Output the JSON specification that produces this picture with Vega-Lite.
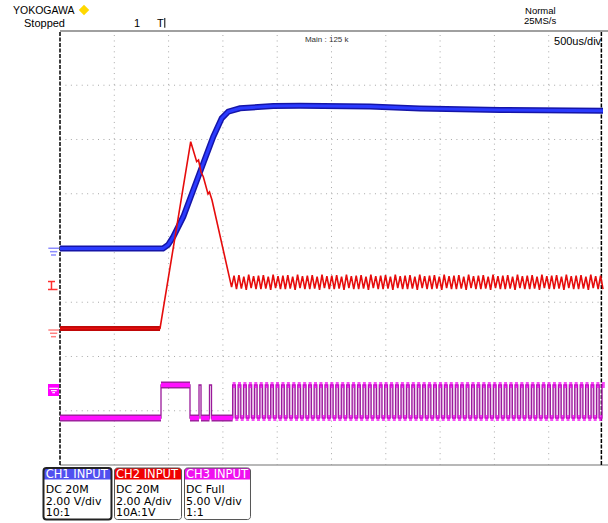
{
"$schema": "https://vega.github.io/schema/vega-lite/v6.json",
"width": 608, "height": 523, "padding": 0, "autosize": {"type": "none"},
"background": "white",
"config": {"view": {"stroke": null}, "axis": {"disable": true}},
"data": {"values": [{}]},
"datasets": {
"ch1": [{"t":0,"v":3.99},{"t":1.897,"v":3.99},{"t":1.989,"v":4.055},{"t":2.087,"v":4.208},{"t":2.271,"v":4.577},{"t":2.455,"v":5.069},{"t":2.639,"v":5.561},{"t":2.823,"v":6.052},{"t":2.978,"v":6.391},{"t":3.099,"v":6.512},{"t":3.315,"v":6.575},{"t":3.928,"v":6.618},{"t":4.42,"v":6.623},{"t":5.709,"v":6.608},{"t":6.63,"v":6.571},{"t":8.103,"v":6.544},{"t":10,"v":6.531}],
"ch2": [{"t":0,"v":2.516},{"t":1.842,"v":2.516},{"t":2.407,"v":5.959},{"t":2.517,"v":5.591},{"t":2.551,"v":5.622},{"t":2.597,"v":5.401},{"t":2.639,"v":5.314},{"t":2.726,"v":4.995},{"t":2.753,"v":5.032},{"t":2.799,"v":4.885},{"t":3.16,"v":3.28},
{"t":3.205,"v":3.49},{"t":3.25,"v":3.24},{"t":3.295,"v":3.5},{"t":3.34,"v":3.25},{"t":3.385,"v":3.47},{"t":3.43,"v":3.23},{"t":3.475,"v":3.51},{"t":3.52,"v":3.26},{"t":3.565,"v":3.48},{"t":3.61,"v":3.24},
{"t":3.655,"v":3.49},{"t":3.7,"v":3.24},{"t":3.745,"v":3.5},{"t":3.79,"v":3.25},{"t":3.835,"v":3.47},{"t":3.88,"v":3.23},{"t":3.925,"v":3.51},{"t":3.97,"v":3.26},{"t":4.015,"v":3.48},{"t":4.06,"v":3.24},
{"t":4.105,"v":3.49},{"t":4.15,"v":3.24},{"t":4.195,"v":3.5},{"t":4.24,"v":3.25},{"t":4.285,"v":3.47},{"t":4.33,"v":3.23},{"t":4.375,"v":3.51},{"t":4.42,"v":3.26},{"t":4.465,"v":3.48},{"t":4.51,"v":3.24},
{"t":4.555,"v":3.49},{"t":4.6,"v":3.24},{"t":4.645,"v":3.5},{"t":4.69,"v":3.25},{"t":4.735,"v":3.47},{"t":4.78,"v":3.23},{"t":4.825,"v":3.51},{"t":4.87,"v":3.26},{"t":4.915,"v":3.48},{"t":4.96,"v":3.24},
{"t":5.005,"v":3.49},{"t":5.05,"v":3.24},{"t":5.095,"v":3.5},{"t":5.14,"v":3.25},{"t":5.185,"v":3.47},{"t":5.23,"v":3.23},{"t":5.275,"v":3.51},{"t":5.32,"v":3.26},{"t":5.365,"v":3.48},{"t":5.41,"v":3.24},
{"t":5.455,"v":3.49},{"t":5.5,"v":3.24},{"t":5.545,"v":3.5},{"t":5.59,"v":3.25},{"t":5.635,"v":3.47},{"t":5.68,"v":3.23},{"t":5.725,"v":3.51},{"t":5.77,"v":3.26},{"t":5.815,"v":3.48},{"t":5.86,"v":3.24},
{"t":5.905,"v":3.49},{"t":5.95,"v":3.24},{"t":5.995,"v":3.5},{"t":6.04,"v":3.25},{"t":6.085,"v":3.47},{"t":6.13,"v":3.23},{"t":6.175,"v":3.51},{"t":6.22,"v":3.26},{"t":6.265,"v":3.48},{"t":6.31,"v":3.24},
{"t":6.355,"v":3.49},{"t":6.4,"v":3.24},{"t":6.445,"v":3.5},{"t":6.49,"v":3.25},{"t":6.535,"v":3.47},{"t":6.58,"v":3.23},{"t":6.625,"v":3.51},{"t":6.67,"v":3.26},{"t":6.715,"v":3.48},{"t":6.76,"v":3.24},
{"t":6.805,"v":3.49},{"t":6.85,"v":3.24},{"t":6.895,"v":3.5},{"t":6.94,"v":3.25},{"t":6.985,"v":3.47},{"t":7.03,"v":3.23},{"t":7.075,"v":3.51},{"t":7.12,"v":3.26},{"t":7.165,"v":3.48},{"t":7.21,"v":3.24},
{"t":7.255,"v":3.49},{"t":7.3,"v":3.24},{"t":7.345,"v":3.5},{"t":7.39,"v":3.25},{"t":7.435,"v":3.47},{"t":7.48,"v":3.23},{"t":7.525,"v":3.51},{"t":7.57,"v":3.26},{"t":7.615,"v":3.48},{"t":7.66,"v":3.24},
{"t":7.705,"v":3.49},{"t":7.75,"v":3.24},{"t":7.795,"v":3.5},{"t":7.84,"v":3.25},{"t":7.885,"v":3.47},{"t":7.93,"v":3.23},{"t":7.975,"v":3.51},{"t":8.02,"v":3.26},{"t":8.065,"v":3.48},{"t":8.11,"v":3.24},
{"t":8.155,"v":3.49},{"t":8.2,"v":3.24},{"t":8.245,"v":3.5},{"t":8.29,"v":3.25},{"t":8.335,"v":3.47},{"t":8.38,"v":3.23},{"t":8.425,"v":3.51},{"t":8.47,"v":3.26},{"t":8.515,"v":3.48},{"t":8.56,"v":3.24},
{"t":8.605,"v":3.49},{"t":8.65,"v":3.24},{"t":8.695,"v":3.5},{"t":8.74,"v":3.25},{"t":8.785,"v":3.47},{"t":8.83,"v":3.23},{"t":8.875,"v":3.51},{"t":8.92,"v":3.26},{"t":8.965,"v":3.48},{"t":9.01,"v":3.24},
{"t":9.055,"v":3.49},{"t":9.1,"v":3.24},{"t":9.145,"v":3.5},{"t":9.19,"v":3.25},{"t":9.235,"v":3.47},{"t":9.28,"v":3.23},{"t":9.325,"v":3.51},{"t":9.37,"v":3.26},{"t":9.415,"v":3.48},{"t":9.46,"v":3.24},
{"t":9.505,"v":3.49},{"t":9.55,"v":3.24},{"t":9.595,"v":3.5},{"t":9.64,"v":3.25},{"t":9.685,"v":3.47},{"t":9.73,"v":3.23},{"t":9.775,"v":3.51},{"t":9.82,"v":3.26},{"t":9.865,"v":3.48},{"t":9.91,"v":3.24},
{"t":9.955,"v":3.49},{"t":10,"v":3.24}],
"ch3": [{"t":0,"v":0.866},{"t":1.86,"v":1.475},{"t":2.394,"v":0.866},{"t":2.56,"v":1.475},{"t":2.597,"v":0.866},{"t":2.753,"v":1.475},{"t":2.79,"v":0.866},
{"t":3.18,"v":1.475},{"t":3.23,"v":0.866},{"t":3.28,"v":1.475},{"t":3.33,"v":0.866},{"t":3.38,"v":1.475},{"t":3.43,"v":0.866},{"t":3.48,"v":1.475},{"t":3.53,"v":0.866},{"t":3.58,"v":1.475},{"t":3.63,"v":0.866},
{"t":3.68,"v":1.475},{"t":3.73,"v":0.866},{"t":3.78,"v":1.475},{"t":3.83,"v":0.866},{"t":3.88,"v":1.475},{"t":3.93,"v":0.866},{"t":3.98,"v":1.475},{"t":4.03,"v":0.866},{"t":4.08,"v":1.475},{"t":4.13,"v":0.866},
{"t":4.18,"v":1.475},{"t":4.23,"v":0.866},{"t":4.28,"v":1.475},{"t":4.33,"v":0.866},{"t":4.38,"v":1.475},{"t":4.43,"v":0.866},{"t":4.48,"v":1.475},{"t":4.53,"v":0.866},{"t":4.58,"v":1.475},{"t":4.63,"v":0.866},
{"t":4.68,"v":1.475},{"t":4.73,"v":0.866},{"t":4.78,"v":1.475},{"t":4.83,"v":0.866},{"t":4.88,"v":1.475},{"t":4.93,"v":0.866},{"t":4.98,"v":1.475},{"t":5.03,"v":0.866},{"t":5.08,"v":1.475},{"t":5.13,"v":0.866},
{"t":5.18,"v":1.475},{"t":5.23,"v":0.866},{"t":5.28,"v":1.475},{"t":5.33,"v":0.866},{"t":5.38,"v":1.475},{"t":5.43,"v":0.866},{"t":5.48,"v":1.475},{"t":5.53,"v":0.866},{"t":5.58,"v":1.475},{"t":5.63,"v":0.866},
{"t":5.68,"v":1.475},{"t":5.73,"v":0.866},{"t":5.78,"v":1.475},{"t":5.83,"v":0.866},{"t":5.88,"v":1.475},{"t":5.93,"v":0.866},{"t":5.98,"v":1.475},{"t":6.03,"v":0.866},{"t":6.08,"v":1.475},{"t":6.13,"v":0.866},
{"t":6.18,"v":1.475},{"t":6.23,"v":0.866},{"t":6.28,"v":1.475},{"t":6.33,"v":0.866},{"t":6.38,"v":1.475},{"t":6.43,"v":0.866},{"t":6.48,"v":1.475},{"t":6.53,"v":0.866},{"t":6.58,"v":1.475},{"t":6.63,"v":0.866},
{"t":6.68,"v":1.475},{"t":6.73,"v":0.866},{"t":6.78,"v":1.475},{"t":6.83,"v":0.866},{"t":6.88,"v":1.475},{"t":6.93,"v":0.866},{"t":6.98,"v":1.475},{"t":7.03,"v":0.866},{"t":7.08,"v":1.475},{"t":7.13,"v":0.866},
{"t":7.18,"v":1.475},{"t":7.23,"v":0.866},{"t":7.28,"v":1.475},{"t":7.33,"v":0.866},{"t":7.38,"v":1.475},{"t":7.43,"v":0.866},{"t":7.48,"v":1.475},{"t":7.53,"v":0.866},{"t":7.58,"v":1.475},{"t":7.63,"v":0.866},
{"t":7.68,"v":1.475},{"t":7.73,"v":0.866},{"t":7.78,"v":1.475},{"t":7.83,"v":0.866},{"t":7.88,"v":1.475},{"t":7.93,"v":0.866},{"t":7.98,"v":1.475},{"t":8.03,"v":0.866},{"t":8.08,"v":1.475},{"t":8.13,"v":0.866},
{"t":8.18,"v":1.475},{"t":8.23,"v":0.866},{"t":8.28,"v":1.475},{"t":8.33,"v":0.866},{"t":8.38,"v":1.475},{"t":8.43,"v":0.866},{"t":8.48,"v":1.475},{"t":8.53,"v":0.866},{"t":8.58,"v":1.475},{"t":8.63,"v":0.866},
{"t":8.68,"v":1.475},{"t":8.73,"v":0.866},{"t":8.78,"v":1.475},{"t":8.83,"v":0.866},{"t":8.88,"v":1.475},{"t":8.93,"v":0.866},{"t":8.98,"v":1.475},{"t":9.03,"v":0.866},{"t":9.08,"v":1.475},{"t":9.13,"v":0.866},
{"t":9.18,"v":1.475},{"t":9.23,"v":0.866},{"t":9.28,"v":1.475},{"t":9.33,"v":0.866},{"t":9.38,"v":1.475},{"t":9.43,"v":0.866},{"t":9.48,"v":1.475},{"t":9.53,"v":0.866},{"t":9.58,"v":1.475},{"t":9.63,"v":0.866},
{"t":9.68,"v":1.475},{"t":9.73,"v":0.866},{"t":9.78,"v":1.475},{"t":9.83,"v":0.866},{"t":9.88,"v":1.475},{"t":9.93,"v":0.866},{"t":9.98,"v":1.475},{"t":10,"v":1.475}],
"ch2flat": [{"t":0,"t2":1.842,"v":2.516}],
"ch3flat": [{"t":0,"t2":1.86,"v":0.866},{"t":1.86,"t2":2.394,"v":1.475},{"t":2.394,"t2":2.56,"v":0.866},{"t":2.597,"t2":2.753,"v":0.866},{"t":2.79,"t2":3.18,"v":0.866}],
"vgrid": [{"t":1},{"t":2},{"t":3},{"t":4},{"t":5},{"t":6},{"t":7},{"t":8},{"t":9}],
"hgrid": [{"v":1},{"v":2},{"v":3},{"v":4},{"v":5},{"v":6},{"v":7}]
},
"layer": [
{"data": {"name": "vgrid"},
 "mark": {"type": "rule", "color": "#a8a8a8", "strokeWidth": 1, "strokeDash": [1, 4.43]},
 "encoding": {"x": {"field": "t", "type": "quantitative", "scale": {"domain": [-1.105, 10.092], "nice": false, "zero": false}, "axis": null}, "y": {"datum": 0, "scale": {"domain": [-1.069, 8.571], "nice": false, "zero": false}}, "y2": {"datum": 8}}},
{"data": {"name": "hgrid"},
 "mark": {"type": "rule", "color": "#a8a8a8", "strokeWidth": 1, "strokeDash": [1, 4.43]},
 "encoding": {"y": {"field": "v", "type": "quantitative", "scale": {"domain": [-1.069, 8.571], "nice": false, "zero": false}, "axis": null}, "x": {"datum": 0, "scale": {"domain": [-1.105, 10.092], "nice": false, "zero": false}}, "x2": {"datum": 10}}},
{"mark": {"type": "rule", "color": "#a0a0a0", "strokeWidth": 2},
 "encoding": {"x": {"datum": 0}, "x2": {"datum": 10.092}, "y": {"datum": 8}}},
{"mark": {"type": "rule", "color": "#a0a0a0", "strokeWidth": 1.5},
 "encoding": {"x": {"datum": 0}, "x2": {"datum": 10.092}, "y": {"datum": 0}}},
{"mark": {"type": "rule", "color": "black", "strokeWidth": 1.5, "strokeDash": [4, 1.5]},
 "encoding": {"x": {"datum": 0}, "y": {"datum": 0}, "y2": {"datum": 8}}},
{"mark": {"type": "rule", "color": "black", "strokeWidth": 1.5, "strokeDash": [4, 1.5]},
 "encoding": {"x": {"datum": 9.97}, "y": {"datum": 0}, "y2": {"datum": 8}}},

{"data": {"name": "ch1"}, "mark": {"type": "line", "color": "#1515a8", "strokeWidth": 6},
 "encoding": {"x": {"field": "t", "type": "quantitative"}, "y": {"field": "v", "type": "quantitative"}}},
{"data": {"name": "ch1"}, "mark": {"type": "line", "color": "#2b3bff", "strokeWidth": 3},
 "encoding": {"x": {"field": "t", "type": "quantitative"}, "y": {"field": "v", "type": "quantitative"}}},

{"data": {"name": "ch2flat"}, "mark": {"type": "rule", "color": "#c00808", "strokeWidth": 5},
 "encoding": {"x": {"field": "t", "type": "quantitative"}, "x2": {"field": "t2"}, "y": {"field": "v", "type": "quantitative"}}},
{"data": {"name": "ch2"}, "mark": {"type": "line", "color": "#e60c0c", "strokeWidth": 1.6},
 "encoding": {"x": {"field": "t", "type": "quantitative"}, "y": {"field": "v", "type": "quantitative"}}},

{"data": {"name": "ch3"}, "transform": [{"filter": "datum.t >= 3.18"}],
 "mark": {"type": "area", "interpolate": "step-after", "color": "#eab5ea", "opacity": 1},
 "encoding": {"x": {"field": "t", "type": "quantitative"}, "y": {"field": "v", "type": "quantitative"}, "y2": {"datum": 0.866}}},
{"data": {"name": "ch3"}, "mark": {"type": "line", "interpolate": "step-after", "color": "#9a1a9a", "strokeWidth": 1.3},
 "encoding": {"x": {"field": "t", "type": "quantitative"}, "y": {"field": "v", "type": "quantitative"}}},
{"data": {"name": "ch3flat"}, "mark": {"type": "rule", "color": "#a020a0", "strokeWidth": 7},
 "encoding": {"x": {"field": "t", "type": "quantitative"}, "x2": {"field": "t2"}, "y": {"field": "v", "type": "quantitative"}}},
{"data": {"name": "ch3flat"}, "mark": {"type": "rule", "color": "#ff10ff", "strokeWidth": 4},
 "encoding": {"x": {"field": "t", "type": "quantitative"}, "x2": {"field": "t2"}, "y": {"field": "v", "type": "quantitative"}}},
{"data": {"name": "ch3"}, "transform": [{"filter": "datum.t >= 3.18 && datum.t < 9.99"}],
 "mark": {"type": "tick", "orient": "horizontal", "color": "#f000f0", "thickness": 6, "size": 3, "xOffset": 1.4},
 "encoding": {"x": {"field": "t", "type": "quantitative"}, "y": {"field": "v", "type": "quantitative"}}},

{"mark": {"type": "rule", "color": "#8c8cff", "strokeWidth": 1.5}, "encoding": {"x": {"datum": -0.215}, "x2": {"datum": -0.013}, "y": {"datum": 3.995}}},
{"mark": {"type": "rule", "color": "#8c8cff", "strokeWidth": 1.5}, "encoding": {"x": {"datum": -0.184}, "x2": {"datum": -0.05}, "y": {"datum": 3.932}}},
{"mark": {"type": "rule", "color": "#8c8cff", "strokeWidth": 1.5}, "encoding": {"x": {"datum": -0.166}, "x2": {"datum": -0.074}, "y": {"datum": 3.871}}},

{"mark": {"type": "rule", "color": "#ff8080", "strokeWidth": 1.5}, "encoding": {"x": {"datum": -0.215}, "x2": {"datum": -0.013}, "y": {"datum": 2.488}}},
{"mark": {"type": "rule", "color": "#ff8080", "strokeWidth": 1.5}, "encoding": {"x": {"datum": -0.184}, "x2": {"datum": -0.05}, "y": {"datum": 2.428}}},
{"mark": {"type": "rule", "color": "#ff8080", "strokeWidth": 1.5}, "encoding": {"x": {"datum": -0.166}, "x2": {"datum": -0.074}, "y": {"datum": 2.365}}},

{"mark": {"type": "rule", "color": "#ff3030", "strokeWidth": 1.5}, "encoding": {"x": {"datum": -0.221}, "x2": {"datum": -0.092}, "y": {"datum": 3.382}}},
{"mark": {"type": "rule", "color": "#ff3030", "strokeWidth": 1.5}, "encoding": {"x": {"datum": -0.157}, "y": {"datum": 3.382}, "y2": {"datum": 3.235}}},
{"mark": {"type": "rule", "color": "#ff3030", "strokeWidth": 1.5}, "encoding": {"x": {"datum": -0.221}, "x2": {"datum": -0.046}, "y": {"datum": 3.235}}},

{"mark": {"type": "rect", "color": "#ff00ff"}, "encoding": {"x": {"datum": -0.221}, "x2": {"datum": -0.018}, "y": {"datum": 1.493}, "y2": {"datum": 1.272}}},
{"mark": {"type": "rule", "color": "white", "strokeWidth": 1.2}, "encoding": {"x": {"datum": -0.197}, "x2": {"datum": -0.031}, "y": {"datum": 1.414}}},
{"mark": {"type": "rule", "color": "white", "strokeWidth": 1.2}, "encoding": {"x": {"datum": -0.166}, "x2": {"datum": -0.061}, "y": {"datum": 1.37}}},
{"mark": {"type": "rule", "color": "white", "strokeWidth": 1.2}, "encoding": {"x": {"datum": -0.142}, "x2": {"datum": -0.092}, "y": {"datum": 1.333}}},

{"mark": {"type": "text", "align": "left", "baseline": "alphabetic", "font": "Liberation Sans", "fontSize": 10.5, "color": "black"},
 "encoding": {"x": {"datum": -0.866}, "y": {"datum": 8.313}, "text": {"value": "YOKOGAWA"}}},
{"mark": {"type": "point", "shape": "diamond", "filled": true, "color": "#ffd800", "size": 110, "opacity": 1},
 "encoding": {"x": {"datum": 0.442}, "y": {"datum": 8.387}}},
{"mark": {"type": "text", "align": "left", "baseline": "alphabetic", "font": "Liberation Sans", "fontSize": 11, "color": "black"},
 "encoding": {"x": {"datum": -0.663}, "y": {"datum": 8.074}, "text": {"value": "Stopped"}}},
{"mark": {"type": "text", "align": "center", "baseline": "alphabetic", "font": "Liberation Sans", "fontSize": 11, "color": "black"},
 "encoding": {"x": {"datum": 1.418}, "y": {"datum": 8.074}, "text": {"value": "1"}}},
{"mark": {"type": "text", "align": "left", "baseline": "alphabetic", "font": "Liberation Sans", "fontSize": 11, "color": "black"},
 "encoding": {"x": {"datum": 1.786}, "y": {"datum": 8.074}, "text": {"value": "T"}}},
{"mark": {"type": "rule", "color": "black", "strokeWidth": 1}, "encoding": {"x": {"datum": 1.93}, "y": {"datum": 8.24}, "y2": {"datum": 8.06}}},
{"mark": {"type": "text", "align": "left", "baseline": "alphabetic", "font": "Liberation Sans", "fontSize": 9.5, "color": "black"},
 "encoding": {"x": {"datum": 8.564}, "y": {"datum": 8.31}, "text": {"value": "Normal"}}},
{"mark": {"type": "text", "align": "left", "baseline": "alphabetic", "font": "Liberation Sans", "fontSize": 9.5, "color": "black"},
 "encoding": {"x": {"datum": 8.545}, "y": {"datum": 8.125}, "text": {"value": "25MS/s"}}},
{"mark": {"type": "text", "align": "right", "baseline": "alphabetic", "font": "Liberation Sans", "fontSize": 11, "color": "black"},
 "encoding": {"x": {"datum": 9.965}, "y": {"datum": 7.742}, "text": {"value": "500us/div"}}},
{"mark": {"type": "text", "align": "center", "baseline": "alphabetic", "font": "Liberation Sans", "fontSize": 8, "color": "#333333"},
 "encoding": {"x": {"datum": 4.912}, "y": {"datum": 7.806}, "text": {"value": "Main : 125 k"}}},

{"mark": {"type": "rect", "fill": "white", "cornerRadius": 3}, "encoding": {"x": {"datum": -0.304}, "x2": {"datum": 0.948}, "y": {"datum": -0.055}, "y2": {"datum": -1.005}}},
{"mark": {"type": "rect", "fill": "#5050f0", "cornerRadiusTopLeft": 3, "cornerRadiusTopRight": 3}, "encoding": {"x": {"datum": -0.304}, "x2": {"datum": 0.948}, "y": {"datum": -0.055}, "y2": {"datum": -0.267}}},
{"mark": {"type": "rect", "fillOpacity": 0, "stroke": "#222222", "strokeWidth": 2, "cornerRadius": 3}, "encoding": {"x": {"datum": -0.304}, "x2": {"datum": 0.948}, "y": {"datum": -0.055}, "y2": {"datum": -1.005}}},
{"mark": {"type": "text", "align": "left", "baseline": "alphabetic", "font": "DejaVu Sans", "fontSize": 11.5, "color": "white"},
 "encoding": {"x": {"datum": -0.264}, "y": {"datum": -0.245}, "text": {"value": "CH1 INPUT"}}},
{"mark": {"type": "text", "align": "left", "baseline": "alphabetic", "font": "DejaVu Sans", "fontSize": 11, "color": "black", "lineHeight": 11.7},
 "encoding": {"x": {"datum": -0.264}, "y": {"datum": -0.516}, "text": {"value": ["DC 20M", "2.00 V/div", "10:1"]}}},

{"mark": {"type": "rect", "fill": "white", "cornerRadius": 3}, "encoding": {"x": {"datum": 1.004}, "x2": {"datum": 2.238}, "y": {"datum": -0.055}, "y2": {"datum": -1.005}}},
{"mark": {"type": "rect", "fill": "#f00000", "cornerRadiusTopLeft": 3, "cornerRadiusTopRight": 3}, "encoding": {"x": {"datum": 1.004}, "x2": {"datum": 2.238}, "y": {"datum": -0.055}, "y2": {"datum": -0.267}}},
{"mark": {"type": "rect", "fillOpacity": 0, "stroke": "#555555", "strokeWidth": 1, "cornerRadius": 3}, "encoding": {"x": {"datum": 1.004}, "x2": {"datum": 2.238}, "y": {"datum": -0.055}, "y2": {"datum": -1.005}}},
{"mark": {"type": "text", "align": "left", "baseline": "alphabetic", "font": "DejaVu Sans", "fontSize": 11.5, "color": "white"},
 "encoding": {"x": {"datum": 1.031}, "y": {"datum": -0.245}, "text": {"value": "CH2 INPUT"}}},
{"mark": {"type": "text", "align": "left", "baseline": "alphabetic", "font": "DejaVu Sans", "fontSize": 11, "color": "black", "lineHeight": 11.7},
 "encoding": {"x": {"datum": 1.031}, "y": {"datum": -0.516}, "text": {"value": ["DC 20M", "2.00 A/div", "10A:1V"]}}},

{"mark": {"type": "rect", "fill": "white", "cornerRadius": 3}, "encoding": {"x": {"datum": 2.293}, "x2": {"datum": 3.508}, "y": {"datum": -0.055}, "y2": {"datum": -1.005}}},
{"mark": {"type": "rect", "fill": "#f010f0", "cornerRadiusTopLeft": 3, "cornerRadiusTopRight": 3}, "encoding": {"x": {"datum": 2.293}, "x2": {"datum": 3.508}, "y": {"datum": -0.055}, "y2": {"datum": -0.267}}},
{"mark": {"type": "rect", "fillOpacity": 0, "stroke": "#555555", "strokeWidth": 1, "cornerRadius": 3}, "encoding": {"x": {"datum": 2.293}, "x2": {"datum": 3.508}, "y": {"datum": -0.055}, "y2": {"datum": -1.005}}},
{"mark": {"type": "text", "align": "left", "baseline": "alphabetic", "font": "DejaVu Sans", "fontSize": 11.5, "color": "white"},
 "encoding": {"x": {"datum": 2.32}, "y": {"datum": -0.245}, "text": {"value": "CH3 INPUT"}}},
{"mark": {"type": "text", "align": "left", "baseline": "alphabetic", "font": "DejaVu Sans", "fontSize": 11, "color": "black", "lineHeight": 11.7},
 "encoding": {"x": {"datum": 2.32}, "y": {"datum": -0.516}, "text": {"value": ["DC Full", "5.00 V/div", "1:1"]}}}
]
}
